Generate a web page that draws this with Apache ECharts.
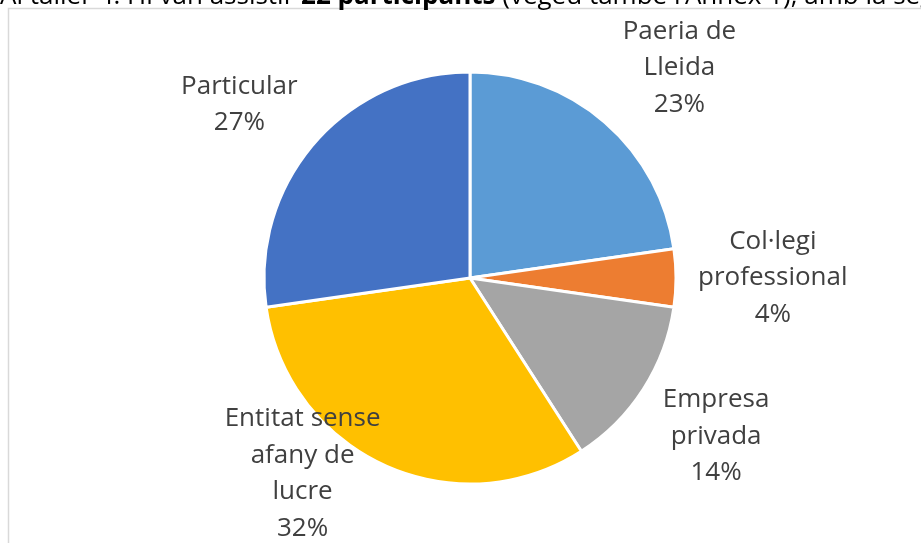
<!DOCTYPE html>
<html>
<head>
<meta charset="utf-8">
<script src="https://cdn.jsdelivr.net/npm/echarts@6/dist/echarts.min.js"></script>
<style>
  html, body { margin: 0; padding: 0; background: #fff; }
  #chart { width: 921px; height: 543px; }
</style>
</head>
<body>
<div id="chart"></div>
<script>
// participants per type (22 in total)
const categories = ['Paeria de\nLleida', 'Col·legi\nprofessional', 'Empresa\nprivada', 'Entitat sense\nafany de\nlucre', 'Particular']
const counts = [5, 1, 3, 7, 6]
const colors = ['#5B9BD5', '#ED7D31', '#A5A5A5', '#FFC000', '#4472C4']

// label distance (as share of radius) and angle nudge per slice, Excel best-fit look
const labelDist = [1.44, 1.47, 1.42, 1.25, 1.40]
const labelTurn = [4, 0, 0, 16, -4]

const cx = 470
const cy = 278
const R = 206

const myChart = echarts.init(document.getElementById('chart'))

const total = counts.reduce((a, b) => a + b, 0)
function midAngle(i) {
  let before = 0
  for (let k = 0; k < i; k++) before += counts[k]
  return (before + counts[i] / 2) / total * 360
}

const option = {
  animation: false,
  graphic: [
    {
      type: 'rect',
      shape: { x: 8.5, y: 8.5, width: 940, height: 560 },
      style: { fill: 'none', stroke: '#d9d9d9', lineWidth: 1.5 },
      silent: true
    },
    {
      type: 'text',
      x: 0,
      y: 10,
      style: {
        text: 'Al taller 4. Hi van assistir {b|22 participants} (vegeu també l’Annex 1), amb la següent',
        font: '26px "Open Sans"',
        fill: '#000',
        verticalAlign: 'bottom',
        rich: { b: { fontWeight: 'bold', fontSize: 26, fontFamily: 'Open Sans' } }
      },
      silent: true
    }
  ],
  series: [
    {
      type: 'pie',
      center: [cx, cy],
      radius: R,
      startAngle: 90,
      clockwise: true,
      percentPrecision: 0,
      itemStyle: { borderColor: '#fff', borderWidth: 3 },
      label: {
        show: true,
        position: 'outside',
        formatter: p => p.name + '\n' + p.percent + '%',
        fontFamily: 'Open Sans',
        fontSize: 26,
        lineHeight: 36.5,
        color: '#404040',
        align: 'center'
      },
      labelLine: { show: false },
      labelLayout: function (params) {
        const i = params.dataIndex
        const a = (midAngle(i) + labelTurn[i]) * Math.PI / 180
        const d = R * labelDist[i]
        return {
          x: cx + d * Math.sin(a),
          y: cy - d * Math.cos(a),
          align: 'center',
          verticalAlign: 'middle'
        }
      },
      emphasis: { disabled: true },
      data: categories.map((c, i) => ({
        name: c,
        value: counts[i],
        itemStyle: { color: colors[i] }
      }))
    }
  ]
}

myChart.setOption(option)
</script>
</body>
</html>
